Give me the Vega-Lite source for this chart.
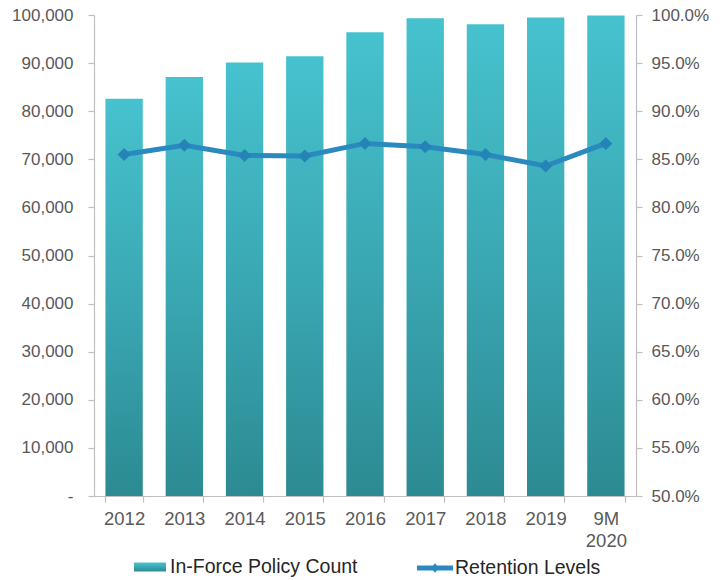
{
  "$schema": "https://vega.github.io/schema/vega-lite/v6.json",
  "width": 542,
  "height": 481,
  "autosize": {"type": "none"},
  "padding": {"left": 94, "top": 15, "right": 86, "bottom": 84},
  "background": "white",
  "config": {
    "view": {"stroke": null},
    "font": "Liberation Sans",
    "axis": {
      "labelColor": "#595959",
      "labelFont": "Liberation Sans",
      "domainColor": "#bfbfbf",
      "tickColor": "#bfbfbf",
      "domainWidth": 1.2,
      "tickWidth": 1.2,
      "grid": false,
      "title": null
    },
    "legend": {
      "labelFont": "Liberation Sans",
      "labelFontSize": 19.5,
      "labelColor": "#262626",
      "labelLimit": 400,
      "padding": 0,
      "title": null
    }
  },
  "data": {
    "values": [
      {"period": "2012", "policies": 82600, "retention": 0.855},
      {"period": "2013", "policies": 87100, "retention": 0.8645},
      {"period": "2014", "policies": 90100, "retention": 0.854},
      {"period": "2015", "policies": 91400, "retention": 0.8535},
      {"period": "2016", "policies": 96400, "retention": 0.8665},
      {"period": "2017", "policies": 99300, "retention": 0.863},
      {"period": "2018", "policies": 98100, "retention": 0.855},
      {"period": "2019", "policies": 99500, "retention": 0.843},
      {"period": "9M 2020", "policies": 99900, "retention": 0.8665}
    ]
  },
  "encoding": {
    "x": {
      "field": "period",
      "type": "nominal",
      "sort": null,
      "scale": {"paddingInner": 0.38, "paddingOuter": 0.19},
      "axis": {
        "labelAngle": 0,
        "labelFontSize": 18.5,
        "labelLineHeight": 22,
        "labelExpr": "datum.label == '9M 2020' ? ['9M', '2020'] : datum.label",
        "tickBand": "extent",
        "tickSize": 6,
        "labelPadding": 7
      }
    }
  },
  "layer": [
    {
      "mark": {
        "type": "bar",
        "color": {
          "gradient": "linear",
          "x1": 0, "y1": 0, "x2": 0, "y2": 1,
          "stops": [
            {"offset": 0, "color": "#46c2ce"},
            {"offset": 0.5, "color": "#3aa8b3"},
            {"offset": 1, "color": "#2c8a92"}
          ]
        }
      },
      "encoding": {
        "y": {
          "field": "policies",
          "type": "quantitative",
          "scale": {"domain": [0, 100000], "nice": false},
          "axis": {
            "values": [0, 10000, 20000, 30000, 40000, 50000, 60000, 70000, 80000, 90000, 100000],
            "format": ",.0f",
            "labelExpr": "datum.value == 0 ? '-\u00a0\u00a0' : datum.label",
            "labelFontSize": 17,
            "tickSize": 6,
            "labelPadding": 15
          }
        },
        "opacity": {
          "datum": "In-Force Policy Count",
          "type": "nominal",
          "scale": {"range": [1]},
          "legend": {
            "orient": "none",
            "legendX": 39,
            "legendY": 535,
            "symbolType": "M-1,-0.28H1V0.28H-1Z",
            "symbolSize": 1024,
            "labelOffset": 3,
            "encode": {
              "symbols": {
                "update": {
                  "fill": {"value": "#3bb0bb"},
                  "strokeWidth": {"value": 0},
                  "opacity": {"value": 1}
                }
              }
            }
          }
        }
      }
    },
    {
      "mark": {
        "type": "line",
        "strokeWidth": 5,
        "point": {"shape": "diamond", "filled": true, "size": 170, "fill": "#2683b6", "strokeWidth": 0}
      },
      "encoding": {
        "y": {
          "field": "retention",
          "type": "quantitative",
          "scale": {"domain": [0.5, 1], "nice": false},
          "axis": {
            "orient": "right",
            "values": [0.5, 0.55, 0.6, 0.65, 0.7, 0.75, 0.8, 0.85, 0.9, 0.95, 1],
            "format": ".1%",
            "labelFontSize": 17,
            "tickSize": 6,
            "labelPadding": 9
          }
        },
        "stroke": {
          "datum": "Retention Levels",
          "type": "nominal",
          "scale": {"range": ["#2a8ac0"]},
          "legend": {
            "orient": "none",
            "legendX": 323,
            "legendY": 535,
            "symbolType": "M-1,-0.14H1V0.14H-1Z M0,-0.26L0.23,0L0,0.26L-0.23,0Z",
            "symbolSize": 1296,
            "labelOffset": 2,
            "encode": {
              "symbols": {
                "update": {
                  "fill": {"value": "#2a8ac0"},
                  "stroke": {"value": "#2a8ac0"},
                  "strokeWidth": {"value": 0}
                }
              }
            }
          }
        }
      }
    }
  ],
  "resolve": {
    "scale": {"y": "independent", "opacity": "independent", "stroke": "independent"}
  }
}
